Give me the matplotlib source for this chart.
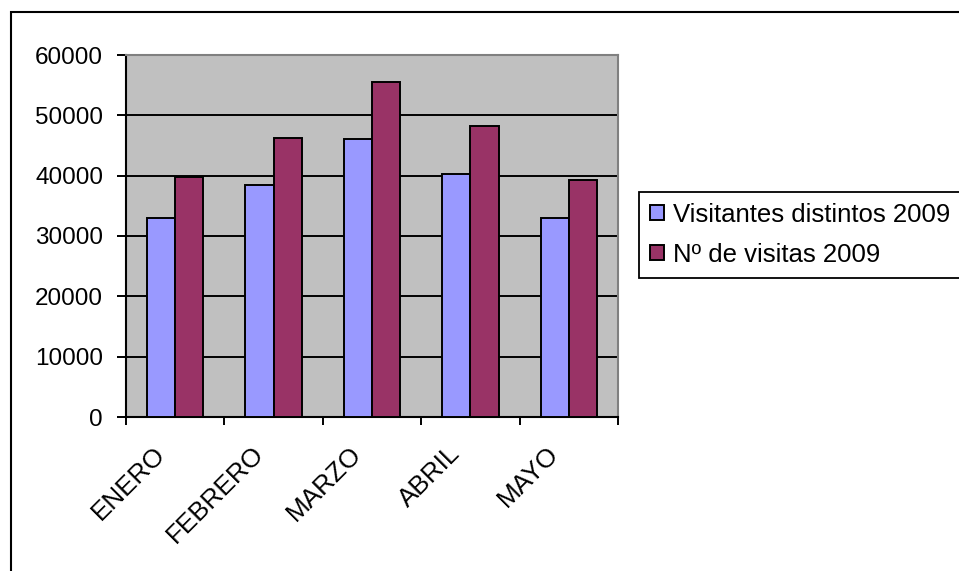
import matplotlib
matplotlib.use("Agg")
import matplotlib.pyplot as plt
import matplotlib.transforms as mtransforms
from matplotlib.patches import Rectangle
import numpy as np

months = ["ENERO", "FEBRERO", "MARZO", "ABRIL", "MAYO"]
visitantes = [33000, 38400, 46000, 40300, 33000]
visitas = [39700, 46300, 55600, 48300, 39300]
yticks = [0, 10000, 20000, 30000, 40000, 50000, 60000]
series_names = ["Visitantes distintos 2009", "N\u00ba de visitas 2009"]

plt.rcParams["font.family"] = ["Liberation Sans", "DejaVu Sans"]
FS_Y = 17.5
FS_CAT = 18.8
FS_LEG = 18.5

W, H = 959, 571
fig = plt.figure(figsize=(W / 100, H / 100), dpi=100)
fig.patch.set_facecolor("white")

# outer chart-area frame (runs off the right and bottom edges)
fig.patches.append(Rectangle((10.5 / W, -0.05), 1.2, 1 - 12.5 / H + 0.05,
                             transform=fig.transFigure, fill=False,
                             edgecolor="black", linewidth=1.5))

left, right, top, bottom = 126, 618, 55, 417
ax = fig.add_axes([left / W, 1 - bottom / H, (right - left) / W, (bottom - top) / H])
ax.set_facecolor("#C0C0C0")

x = np.arange(len(months))
w = 1 / 3.5
b1 = ax.bar(x - w / 2, visitantes, width=w, color="#9999FF", edgecolor="black",
            linewidth=1.4, label=series_names[0], zorder=3)
b2 = ax.bar(x + w / 2, visitas, width=w, color="#993366", edgecolor="black",
            linewidth=1.4, label=series_names[1], zorder=3)

ax.set_xlim(-0.5, len(months) - 0.5)
ax.set_ylim(0, 60000)
ax.set_yticks(yticks)
ax.set_yticklabels([str(v) for v in yticks], fontsize=FS_Y)
ax.yaxis.grid(True, color="black", linewidth=1.4, zorder=1)
ax.set_axisbelow(True)

ax.set_xticks(np.arange(len(months) + 1) - 0.5)
ax.set_xticklabels([])
ax.tick_params(axis="x", direction="out", length=6, width=1.4, color="black")
ax.tick_params(axis="y", direction="out", length=6.5, width=1.4, color="black", pad=10)

for side in ["left", "bottom"]:
    ax.spines[side].set_color("black")
    ax.spines[side].set_linewidth(1.5)
for side in ["top", "right"]:
    ax.spines[side].set_color("#808080")
    ax.spines[side].set_linewidth(1.5)

# rotated category labels, ending just left of each category centre
trans = mtransforms.blended_transform_factory(ax.transData, ax.transAxes)
for i, m in enumerate(months):
    off = mtransforms.ScaledTranslation(-14 / 100, -33 / 100, fig.dpi_scale_trans)
    ax.text(i, 0, m, transform=trans + off, rotation=45, rotation_mode="anchor",
            ha="right", va="center", fontsize=FS_CAT)

leg = fig.legend(handles=[b1, b2], labels=series_names, loc="upper left",
                 bbox_to_anchor=(639 / W, 1 - 192 / H), fontsize=FS_LEG,
                 frameon=True, fancybox=False, edgecolor="black", framealpha=1,
                 handlelength=0.55, handleheight=0.55, handletextpad=0.35,
                 borderpad=0.42, labelspacing=0.62, borderaxespad=0)
leg.get_frame().set_linewidth(1.3)

fig.savefig("out.png", dpi=100)
